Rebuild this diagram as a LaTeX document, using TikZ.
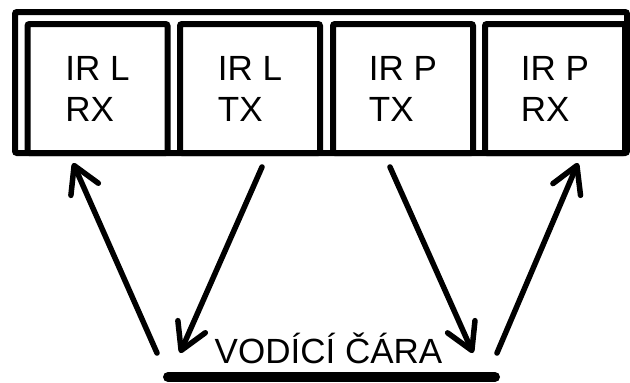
\documentclass[tikz,border=0pt]{standalone}
\usepackage{fontspec}
\setmainfont{Liberation Sans}
\usetikzlibrary{arrows.meta}

\begin{document}
\begin{tikzpicture}[x=1pt,y=-1pt,
    senzor/.style={draw,line width=6pt,rounded corners=2pt,minimum width=140pt,
      minimum height=129pt,inner sep=0pt,align=left,font=\fontsize{35}{41}\selectfont},
    paprsek/.style={line width=5.5pt,line cap=round,
      -{Straight Barb[round,length=26pt,width=30pt]}}]
    \useasboundingbox (0,0) rectangle (630,383);
    % outer frame
    \draw[line width=6pt,rounded corners=2pt] (15,12) rectangle (627,153);
    \node[senzor] (LRX) at (97.5,88.5) {IR L\\RX};
    \node[senzor] (LTX) at (250,88.5) {IR L\\TX};
    \node[senzor] (PTX) at (403,88.5) {IR P\\TX};
    \node[senzor] (PRX) at (555,88.5) {IR P\\RX};
    % guide line
    \coordinate (C1) at (168,377);
    \coordinate (C2) at (495,377);
    \draw[line width=10pt,line cap=round] (C1) -- (C2);
    \node[anchor=base,inner sep=0pt,font=\fontsize{35}{41}\selectfont] (cara) at (328.5,363) {VODÍCÍ ČÁRA};
    % beams
    \coordinate (A1) at (157,353);
    \coordinate (B1) at (73,163);
    \coordinate (A2) at (262,167);
    \coordinate (B2) at (180,353);
    \coordinate (A3) at (390,167);
    \coordinate (B3) at (473,353);
    \coordinate (A4) at (497,353);
    \coordinate (B4) at (578,163);
    \draw[paprsek] (A1) -- (B1);
    \draw[paprsek] (A2) -- (B2);
    \draw[paprsek] (A3) -- (B3);
    \draw[paprsek] (A4) -- (B4);
  \end{tikzpicture}
\end{document}
